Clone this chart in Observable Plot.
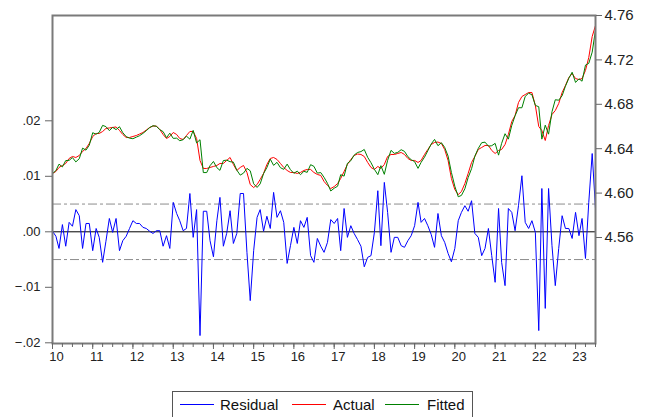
<!DOCTYPE html>
<html><head><meta charset="utf-8">
<script src="https://cdn.jsdelivr.net/npm/d3@7"></script>
<script src="https://cdn.jsdelivr.net/npm/@observablehq/plot@0.6"></script>
<style>
body{margin:0;background:#fff;font-family:Arial,"Liberation Sans",sans-serif;}
#chart{position:relative;width:646px;height:417px;overflow:hidden;}
#legend{position:absolute;left:172px;top:391px;}
</style></head><body><div id="chart"></div>
<script>
// monthly observations 2010M01 .. 2023M07
const actual = [
4.6177,4.6195,4.6231,4.6249,4.6267,4.6312,4.6330,4.6321,4.6339,4.6375,4.6402,4.6447,
4.6510,4.6537,4.6537,4.6555,4.6582,4.6587,4.6591,4.6596,4.6564,4.6528,4.6501,4.6501,
4.6510,4.6519,4.6532,4.6546,4.6568,4.6591,4.6604,4.6604,4.6573,4.6528,4.6492,4.6510,
4.6546,4.6528,4.6492,4.6483,4.6519,4.6555,4.6555,4.6492,4.6294,4.6222,4.6222,4.6231,
4.6240,4.6249,4.6267,4.6267,4.6294,4.6321,4.6258,4.6204,4.6231,4.6249,4.6186,4.6077,
4.6050,4.6077,4.6123,4.6177,4.6258,4.6312,4.6321,4.6303,4.6267,4.6231,4.6204,4.6186,
4.6186,4.6177,4.6186,4.6204,4.6213,4.6213,4.6186,4.6168,4.6159,4.6105,4.6069,4.6041,
4.6059,4.6086,4.6132,4.6195,4.6258,4.6303,4.6339,4.6352,4.6348,4.6330,4.6276,4.6231,
4.6213,4.6240,4.6222,4.6258,4.6330,4.6348,4.6348,4.6357,4.6366,4.6348,4.6312,4.6294,
4.6294,4.6276,4.6294,4.6348,4.6393,4.6438,4.6456,4.6460,4.6447,4.6393,4.6294,4.6132,
4.6032,4.5987,4.6014,4.6086,4.6177,4.6276,4.6330,4.6393,4.6411,4.6429,4.6429,4.6384,
4.6357,4.6384,4.6393,4.6438,4.6528,4.6645,4.6699,4.6816,4.6870,4.6888,4.6906,4.6906,
4.6789,4.6600,4.6564,4.6474,4.6609,4.6708,4.6744,4.6807,4.6906,4.6969,4.7041,4.7077,
4.7032,4.7023,4.7032,4.7105,4.7222,4.7411,4.7510
];
const fitted = [
4.6176,4.6203,4.6261,4.6236,4.6293,4.6295,4.6320,4.6281,4.6310,4.6405,4.6387,4.6432,
4.6544,4.6531,4.6547,4.6610,4.6599,4.6563,4.6592,4.6572,4.6598,4.6544,4.6509,4.6495,
4.6490,4.6504,4.6517,4.6538,4.6562,4.6590,4.6607,4.6602,4.6571,4.6554,4.6499,4.6540,
4.6493,4.6495,4.6472,4.6481,4.6513,4.6486,4.6565,4.6452,4.6481,4.6185,4.6185,4.6247,
4.6285,4.6229,4.6205,4.6293,4.6297,4.6283,4.6279,4.6207,4.6162,4.6180,4.6223,4.6201,
4.6084,4.6051,4.6083,4.6176,4.6230,4.6306,4.6250,4.6277,4.6229,4.6214,4.6261,4.6211,
4.6178,4.6198,4.6166,4.6196,4.6187,4.6256,4.6241,4.6180,4.6185,4.6142,4.6088,4.6019,
4.6044,4.6062,4.6166,4.6153,4.6268,4.6292,4.6342,4.6366,4.6374,4.6393,4.6322,4.6274,
4.6214,4.6166,4.6247,4.6169,4.6295,4.6385,4.6358,4.6367,4.6391,4.6376,4.6328,4.6301,
4.6283,4.6223,4.6277,4.6324,4.6382,4.6443,4.6484,4.6427,4.6454,4.6412,4.6333,4.6186,
4.6062,4.5967,4.5979,4.6039,4.6140,4.6220,4.6333,4.6403,4.6454,4.6459,4.6423,4.6427,
4.6448,4.6342,4.6448,4.6535,4.6486,4.6610,4.6697,4.6769,4.6769,4.6871,4.6900,4.6886,
4.6790,4.6778,4.6486,4.6612,4.6531,4.6733,4.6841,4.6837,4.6877,4.6963,4.7035,4.7089,
4.6997,4.7030,4.7008,4.7153,4.7169,4.7270,4.7468
];
const residual = [
0.0001,-0.0008,-0.0030,0.0013,-0.0026,0.0017,0.0010,0.0040,0.0029,-0.0030,0.0015,0.0015,
-0.0034,0.0006,-0.0010,-0.0055,-0.0017,0.0024,-0.0001,0.0024,-0.0034,-0.0016,-0.0008,0.0006,
0.0020,0.0015,0.0015,0.0008,0.0006,0.0001,-0.0003,0.0002,0.0002,-0.0026,-0.0007,-0.0030,
0.0053,0.0033,0.0020,0.0002,0.0006,0.0069,-0.0010,0.0040,-0.0187,0.0037,0.0037,-0.0016,
-0.0045,0.0020,0.0062,-0.0026,-0.0003,0.0038,-0.0021,-0.0003,0.0069,0.0069,-0.0037,-0.0124,
-0.0034,0.0026,0.0040,0.0001,0.0028,0.0006,0.0071,0.0026,0.0038,0.0017,-0.0057,-0.0025,
0.0008,-0.0021,0.0020,0.0008,0.0026,-0.0043,-0.0055,-0.0012,-0.0026,-0.0037,-0.0019,0.0022,
0.0015,0.0024,-0.0034,0.0042,-0.0010,0.0011,-0.0003,-0.0014,-0.0026,-0.0063,-0.0046,-0.0043,
-0.0001,0.0074,-0.0025,0.0089,0.0035,-0.0037,-0.0010,-0.0010,-0.0025,-0.0028,-0.0016,-0.0007,
0.0011,0.0053,0.0017,0.0024,0.0011,-0.0005,-0.0028,0.0033,-0.0007,-0.0019,-0.0039,-0.0054,
-0.0030,0.0020,0.0035,0.0047,0.0037,0.0056,-0.0003,-0.0010,-0.0043,-0.0030,0.0006,-0.0043,
-0.0091,0.0042,-0.0055,-0.0097,0.0042,0.0035,0.0002,0.0047,0.0101,0.0017,0.0006,0.0020,
-0.0001,-0.0178,0.0078,-0.0138,0.0078,-0.0025,-0.0097,-0.0030,0.0029,0.0006,0.0006,-0.0012,
0.0035,-0.0007,0.0024,-0.0048,0.0053,0.0141,0.0042
];
const yearLabels = ["10","11","12","13","14","15","16","17","18","19","20","21","22","23"];
const leftTicks = [-0.02,-0.01,0.00,0.01,0.02];
const rightTicks = [4.56,4.60,4.64,4.68,4.72,4.76];
const bandLines = [-0.005,0.005];
const seriesNames = ["Residual","Actual","Fitted"];
const seriesColors = ["#0000ff","#ff0000","#008000"];

const start = new Date(Date.UTC(2010,0,1));
const endExcl = new Date(Date.UTC(2023,7,1));
const months = d3.utcMonth.range(start, endExcl);
const leftDomain = [-0.020126, 0.038973];
const rightDomain = [4.464505, 4.76];
const toLeft = d3.scaleLinear().domain(rightDomain).range(leftDomain);

const data = months.map((date,i)=>({date, residual:residual[i], actualL:toLeft(actual[i]), fittedL:toLeft(fitted[i])}));
const quarterTicks = d3.utcMonth.every(3).range(start, endExcl);
const yearTicks = d3.utcYear.range(start, endExcl);
const fmtLeft = d => d3.format(".2f")(d).replace("0.", ".");
const axisColor = "#666";

const chart = Plot.plot({
  width:646, height:380,
  marginLeft:52, marginRight:51, marginTop:15, marginBottom:37,
  x:{type:"utc", domain:[months[0], months[months.length-1]]},
  y:{domain:leftDomain},
  style:{fontFamily:"Arial, 'Liberation Sans', sans-serif", fontSize:"13px", color:"#222", background:"#fff"},
  marks:[
    Plot.ruleY(bandLines,{stroke:"#8c8c8c", strokeDasharray:"9,3,3,3", strokeWidth:1}),
    Plot.ruleY([0],{stroke:"#000", strokeWidth:1}),
    Plot.lineY(data,{x:"date", y:"residual", stroke:seriesColors[0], strokeWidth:1}),
    Plot.lineY(data,{x:"date", y:"actualL", stroke:seriesColors[1], strokeWidth:1}),
    Plot.lineY(data,{x:"date", y:"fittedL", stroke:seriesColors[2], strokeWidth:1}),
    Plot.frame({stroke:"#7a7a7a", strokeWidth:2}),
    Plot.axisY(leftTicks,{anchor:"left", tickSize:7, tickPadding:5, stroke:axisColor, tickFormat:fmtLeft, fontSize:13}),
    Plot.axisY(rightTicks.map(toLeft),{anchor:"right", tickSize:6, tickPadding:3, stroke:axisColor, tickFormat:d=>toLeft.invert(d).toFixed(2), fontSize:15}),
    Plot.axisX(quarterTicks,{anchor:"bottom", tickSize:4, stroke:axisColor, tickFormat:()=>""}),
    Plot.axisX(yearTicks,{anchor:"bottom", tickSize:6, stroke:axisColor, tickFormat:()=>""}),
    Plot.axisX(yearTicks,{anchor:"bottom", tickSize:0, tickPadding:8, dx:4, fontSize:13, tickFormat:d=>yearLabels[d.getUTCFullYear()-2010]})
  ]
});
const holder = document.getElementById("chart");
holder.appendChild(chart);

// legend drawn as a small svg below the chart
const swX = [8, 120, 213];
const lbX = [48, 161, 255];
const leg = d3.create("svg").attr("id","legend").attr("width",301).attr("height",27)
  .style("font-family","Arial, 'Liberation Sans', sans-serif").style("font-size","15px");
leg.append("rect").attr("x",0.5).attr("y",0.5).attr("width",300).attr("height",30)
  .attr("fill","#fff").attr("stroke","#555");
seriesNames.forEach((name,i)=>{
  leg.append("line").attr("x1",swX[i]).attr("x2",swX[i]+34).attr("y1",13.5).attr("y2",13.5)
    .attr("stroke",seriesColors[i]).attr("stroke-width",1.2);
  leg.append("text").attr("x",lbX[i]).attr("y",19).attr("fill","#111").text(name);
});
holder.appendChild(leg.node());
</script>
</body></html>
